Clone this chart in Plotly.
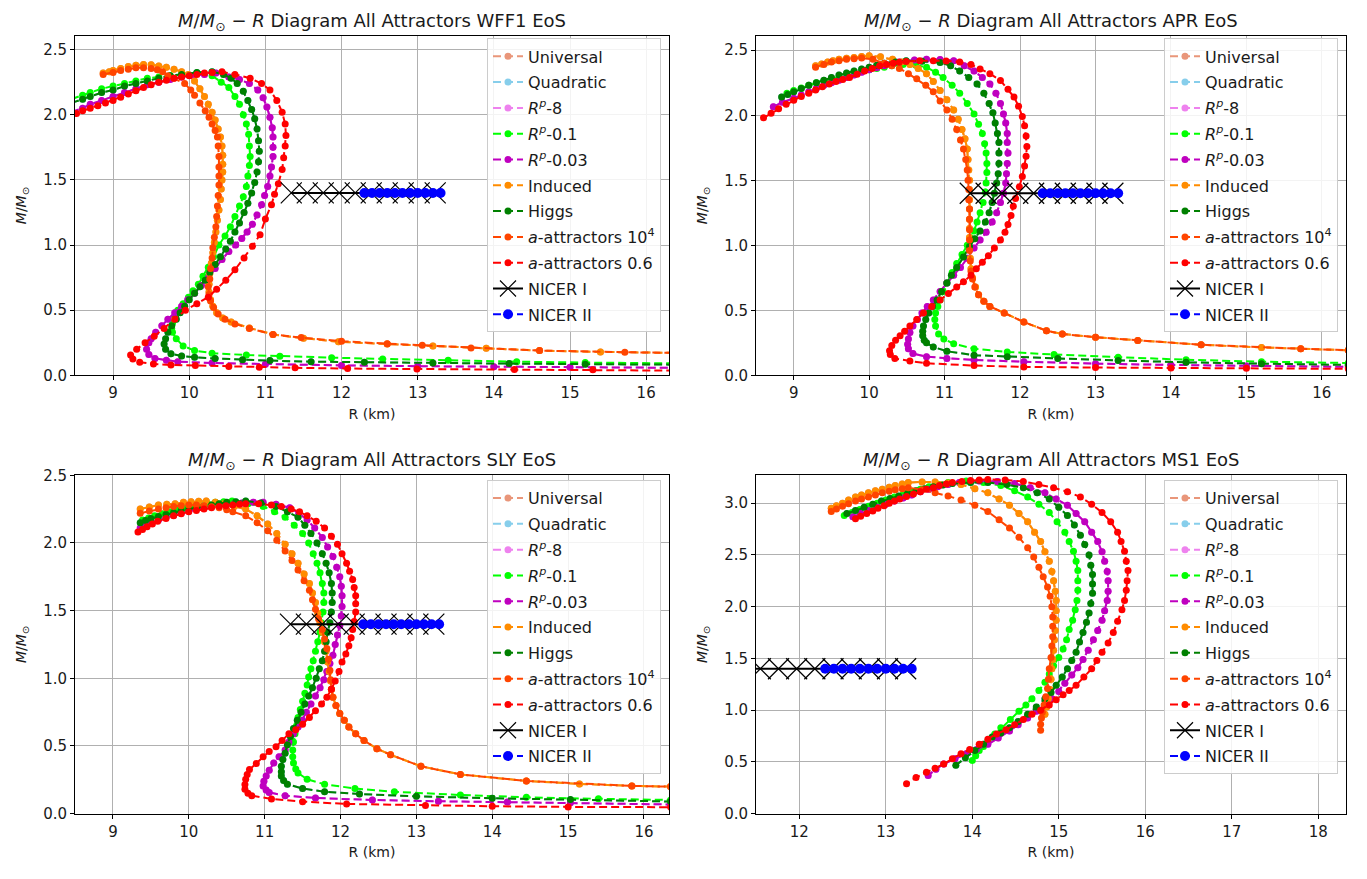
import plotly.graph_objects as go

# ---------------- series meta ----------------
NAMES = ["Universal", "Quadratic", "<i>R</i><sup><i>p</i></sup>-8", "<i>R</i><sup><i>p</i></sup>-0.1",
         "<i>R</i><sup><i>p</i></sup>-0.03", "Induced", "Higgs", "<i>a</i>-attractors 10<sup>4</sup>",
         "<i>a</i>-attractors 0.6"]
COLORS = ["#E9967A", "#87CEEB", "#EE82EE", "#00FF00", "#BF00BF", "#FF8C00", "#008000", "#FF4500", "#FF0000"]

NICER1_R = [11.34, 11.55, 11.76, 11.97, 12.18, 12.39, 12.6, 12.81, 13.02, 13.23]
NICER1_M = [1.4] * 10
NICER2_R = [12.3, 12.4, 12.5, 12.6, 12.7, 12.8, 12.9, 13.0, 13.1, 13.2, 13.3]
NICER2_M = [1.4] * 11

# ---------------- WFF1 ----------------
WFF1_RP01 = [(8.45,2.12),(8.6,2.15),(8.7,2.17),(8.85,2.2),(9.0,2.22),(9.15,2.24),(9.3,2.26),(9.45,2.28),(9.6,2.29),
             (9.75,2.3),(9.9,2.31),(10.1,2.32),(10.3,2.3),(10.42,2.25),
             (10.52,2.21),(10.6,2.14),(10.66,2.08),(10.71,2.0),(10.75,1.93),(10.78,1.85),(10.79,1.76),(10.8,1.68),
             (10.79,1.61),(10.77,1.53),(10.75,1.45),(10.71,1.37),(10.66,1.3),(10.6,1.22),(10.54,1.14),(10.47,1.07),
             (10.39,1.0),(10.32,0.91),(10.25,0.83),(10.18,0.76),(10.12,0.7),(10.05,0.65),(9.99,0.6),(9.92,0.55),
             (9.85,0.5),(9.81,0.45),(9.78,0.4),(9.77,0.36),(9.78,0.33),(9.83,0.28),(9.92,0.226),(10.07,0.19),
             (10.3,0.17),(10.75,0.156),(11.19,0.146),(11.87,0.136),(12.54,0.126),(13.4,0.115),(14.3,0.105),
             (15.2,0.098),(16.35,0.092)]
WFF1_RP003 = [(8.45,2.02),(8.6,2.05),(8.7,2.08),(8.85,2.11),(9.0,2.14),(9.15,2.17),(9.3,2.2),(9.45,2.23),(9.6,2.25),
              (9.75,2.27),(9.9,2.29),(10.05,2.3),(10.2,2.31),(10.35,2.32),(10.52,2.29),
              (10.66,2.27),(10.79,2.24),(10.9,2.19),(10.97,2.13),(11.02,2.06),(11.06,1.98),(11.09,1.9),(11.1,1.83),
              (11.1,1.75),(11.1,1.68),(11.08,1.6),(11.06,1.53),(11.03,1.45),(10.99,1.38),(10.95,1.31),(10.89,1.23),
              (10.83,1.16),(10.76,1.1),(10.69,1.05),(10.61,1.0),(10.52,0.95),(10.43,0.89),(10.34,0.82),(10.25,0.75),
              (10.16,0.69),(10.07,0.63),(9.98,0.58),(9.9,0.53),(9.81,0.48),(9.72,0.43),(9.64,0.38),(9.56,0.33),
              (9.5,0.28),(9.47,0.25),(9.44,0.2),(9.47,0.16),(9.55,0.13),(9.7,0.115),(9.85,0.105),(10.3,0.095),
              (11.0,0.085),(12.0,0.076),(13.0,0.07),(14.0,0.066),(15.0,0.062),(16.35,0.058)]
WFF1_IND = [(8.87,2.32),(8.95,2.33),(9.0,2.34),(9.1,2.355),(9.2,2.37),(9.3,2.38),(9.4,2.385),(9.5,2.383),(9.6,2.375),
            (9.7,2.365),(9.8,2.35),(9.9,2.33),(9.99,2.31),(10.07,2.26),(10.14,2.2),
            (10.2,2.14),(10.25,2.08),(10.3,2.02),(10.34,1.96),(10.38,1.89),(10.41,1.83),(10.43,1.76),(10.44,1.69),
            (10.44,1.62),(10.44,1.56),(10.43,1.5),(10.42,1.43),(10.41,1.35),(10.39,1.27),(10.37,1.19),(10.35,1.1),
            (10.33,1.02),(10.31,0.94),(10.29,0.86),(10.27,0.78),(10.26,0.7),(10.26,0.64),(10.28,0.58),(10.31,0.53),
            (10.36,0.48),(10.44,0.44),(10.55,0.41),(10.79,0.364),(11.1,0.314),(11.5,0.285),(11.96,0.258),
            (12.6,0.24),(13.2,0.225),(13.9,0.207),(14.6,0.19),(15.4,0.18),(16.35,0.172)]
WFF1_HIG = [(8.45,2.09),(8.6,2.12),(8.7,2.14),(8.85,2.17),(9.0,2.19),(9.15,2.22),(9.3,2.24),(9.45,2.26),(9.6,2.28),
            (9.75,2.3),(9.9,2.31),(10.1,2.325),(10.3,2.33),(10.45,2.31),
            (10.55,2.28),(10.63,2.24),(10.71,2.18),(10.77,2.11),(10.82,2.04),(10.86,1.97),(10.89,1.89),(10.91,1.8),
            (10.92,1.72),(10.91,1.64),(10.89,1.56),(10.86,1.48),(10.82,1.4),(10.77,1.32),(10.72,1.25),(10.66,1.17),
            (10.6,1.1),(10.54,1.03),(10.48,0.97),(10.41,0.91),(10.34,0.85),(10.27,0.79),(10.21,0.73),(10.14,0.68),
            (10.07,0.63),(10.0,0.58),(9.94,0.53),(9.88,0.48),(9.83,0.43),(9.77,0.38),(9.72,0.33),(9.69,0.28),
            (9.67,0.24),(9.69,0.2),(9.76,0.165),(9.9,0.148),(10.07,0.138),(10.34,0.13),(10.7,0.12),(11.06,0.113),
            (11.6,0.105),(12.3,0.1),(13.2,0.095),(14.2,0.09),(15.2,0.086),(16.35,0.082)]
WFF1_A1E4 = [(8.87,2.31),(9.0,2.325),(9.1,2.34),(9.2,2.35),(9.3,2.36),(9.4,2.36),(9.5,2.355),(9.58,2.345),(9.65,2.33),
             (9.72,2.3),(9.8,2.28),(9.94,2.24),(10.02,2.19),
             (10.07,2.15),(10.14,2.09),(10.21,2.03),(10.26,1.98),(10.3,1.93),(10.34,1.88),(10.37,1.83),(10.38,1.76),
             (10.39,1.68),(10.39,1.6),(10.39,1.53),(10.39,1.46),(10.38,1.38),(10.37,1.3),(10.36,1.22),(10.35,1.14),
             (10.33,1.06),(10.31,0.98),(10.3,0.9),(10.28,0.82),(10.27,0.74),(10.25,0.68),(10.26,0.62),(10.28,0.57),
             (10.32,0.52),(10.38,0.47),(10.47,0.43),(10.6,0.395),(10.79,0.36),(11.1,0.314),(11.47,0.29),
             (12.0,0.262),(12.6,0.243),(13.06,0.231),(13.7,0.21),(14.6,0.19),(15.72,0.178),(16.35,0.172)]
WFF1_A06 = [(8.45,1.99),(8.52,2.01),(8.6,2.03),(8.7,2.05),(8.8,2.07),(8.9,2.09),(9.0,2.11),(9.1,2.135),(9.2,2.16),
            (9.3,2.185),(9.4,2.21),(9.5,2.23),(9.6,2.25),(9.7,2.265),(9.8,2.28),(9.9,2.29),(10.0,2.3),(10.1,2.31),
            (10.2,2.32),(10.3,2.325),(10.43,2.33),(10.6,2.31),(10.8,2.28),(10.95,2.24),(11.06,2.19),(11.15,2.11),(11.22,2.02),
            (11.26,1.93),(11.27,1.84),(11.26,1.76),(11.24,1.67),(11.22,1.58),(11.17,1.47),(11.12,1.39),(11.08,1.31),
            (11.0,1.2),(10.93,1.08),(10.83,0.99),(10.72,0.9),(10.6,0.81),(10.48,0.73),(10.36,0.66),(10.25,0.6),
            (10.1,0.55),(9.95,0.5),(9.81,0.43),(9.67,0.36),(9.54,0.3),(9.42,0.25),(9.31,0.2),(9.23,0.156),
            (9.26,0.125),(9.35,0.1),(9.53,0.088),(9.76,0.08),(10.08,0.075),(10.52,0.068),(10.92,0.063),
            (11.39,0.058),(12.08,0.052),(12.99,0.048),(14.27,0.045),(15.3,0.042),(16.35,0.036)]

# ---------------- APR ----------------
APR_RP01 = [(8.91,2.17),(9.0,2.19),(9.1,2.21),(9.2,2.23),(9.3,2.25),(9.4,2.265),(9.5,2.28),(9.6,2.295),(9.7,2.31),
            (9.8,2.325),(9.9,2.34),(10.0,2.35),(10.1,2.36),(10.2,2.37),(10.3,2.38),(10.45,2.39),
            (10.62,2.385),(10.76,2.37),(10.88,2.33),(10.98,2.29),(11.1,2.23),(11.2,2.17),(11.3,2.09),(11.39,2.01),
            (11.45,1.93),(11.5,1.86),(11.53,1.78),(11.55,1.71),(11.56,1.63),(11.56,1.56),(11.55,1.48),(11.54,1.41),
            (11.51,1.33),(11.47,1.25),(11.43,1.18),(11.39,1.11),(11.34,1.05),(11.3,1.0),(11.23,0.93),(11.16,0.86),
            (11.1,0.79),(11.03,0.71),(10.98,0.645),(10.94,0.58),(10.91,0.53),(10.88,0.48),(10.87,0.43),(10.88,0.38),
            (10.92,0.318),(10.99,0.28),(11.12,0.243),(11.39,0.205),(11.83,0.18),(12.45,0.16),(13.3,0.14),
            (14.2,0.12),(15.2,0.105),(16.35,0.095)]
APR_RP003 = [(8.73,2.065),(8.85,2.1),(9.0,2.13),(9.1,2.155),(9.2,2.18),(9.3,2.205),(9.4,2.23),(9.5,2.25),(9.6,2.27),
             (9.7,2.29),(9.8,2.31),(9.9,2.33),(10.0,2.35),(10.1,2.365),(10.2,2.38),(10.3,2.395),
             (10.4,2.41),(10.6,2.425),(10.76,2.43),(10.94,2.428),(11.12,2.42),(11.26,2.38),(11.39,2.34),(11.5,2.29),
             (11.6,2.24),(11.68,2.17),(11.74,2.09),(11.78,2.01),(11.81,1.94),(11.83,1.86),(11.83,1.79),(11.84,1.71),
             (11.83,1.63),(11.82,1.55),(11.81,1.48),(11.78,1.4),(11.74,1.33),(11.69,1.25),(11.63,1.18),(11.55,1.1),
             (11.47,1.04),(11.39,0.98),(11.3,0.9),(11.21,0.83),(11.12,0.77),(11.03,0.71),(10.94,0.645),(10.85,0.58),
             (10.77,0.53),(10.7,0.48),(10.64,0.43),(10.58,0.38),(10.54,0.33),(10.52,0.28),(10.51,0.24),(10.52,0.205),
             (10.58,0.168),(10.76,0.143),(11.03,0.13),(11.39,0.118),(12.05,0.105),(13.0,0.09),(14.0,0.08),
             (15.0,0.072),(16.35,0.065)]
APR_IND = [(9.29,2.38),(9.37,2.395),(9.45,2.41),(9.52,2.42),(9.6,2.43),(9.7,2.438),(9.8,2.445),(9.9,2.452),
           (10.0,2.457),(10.15,2.45),(10.31,2.43),(10.43,2.41),
           (10.54,2.39),(10.65,2.36),(10.76,2.32),(10.85,2.26),(10.94,2.19),(11.03,2.12),(11.12,2.04),(11.18,1.97),
           (11.23,1.89),(11.27,1.82),(11.3,1.74),(11.31,1.66),(11.32,1.58),(11.33,1.5),(11.33,1.43),(11.33,1.35),
           (11.33,1.28),(11.33,1.2),(11.33,1.13),(11.33,1.06),(11.33,0.98),(11.34,0.9),(11.35,0.82),(11.37,0.75),
           (11.41,0.68),(11.45,0.62),(11.52,0.57),(11.6,0.53),(11.79,0.48),(12.05,0.41),(12.35,0.343),
           (12.56,0.318),(13.0,0.293),(13.56,0.268),(14.4,0.235),(15.2,0.215),(15.72,0.205),(16.35,0.193)]
APR_HIG = [(8.84,2.14),(8.92,2.16),(9.0,2.18),(9.1,2.205),(9.2,2.23),(9.3,2.25),(9.4,2.27),(9.5,2.29),(9.6,2.31),
           (9.7,2.325),(9.8,2.34),(9.9,2.355),(10.0,2.37),(10.1,2.385),(10.2,2.4),(10.35,2.41),(10.49,2.42),
           (10.7,2.415),(10.94,2.406),(11.08,2.38),(11.2,2.34),(11.32,2.29),(11.43,2.24),(11.52,2.17),(11.59,2.09),
           (11.64,2.02),(11.67,1.94),(11.7,1.86),(11.72,1.79),(11.72,1.71),(11.72,1.63),(11.71,1.55),(11.69,1.48),
           (11.66,1.4),(11.63,1.33),(11.59,1.25),(11.54,1.18),(11.47,1.11),(11.4,1.05),(11.33,0.99),(11.25,0.91),
           (11.16,0.83),(11.09,0.77),(11.03,0.71),(10.96,0.645),(10.9,0.58),(10.84,0.53),(10.79,0.48),(10.75,0.43),
           (10.72,0.38),(10.71,0.34),(10.71,0.305),(10.73,0.27),(10.76,0.25),(10.85,0.218),(11.03,0.185),
           (11.39,0.155),(11.83,0.143),(12.5,0.13),(13.3,0.115),(14.2,0.1),(15.2,0.09),(16.35,0.08)]
APR_A1E4 = [(9.29,2.37),(9.4,2.39),(9.5,2.41),(9.6,2.42),(9.7,2.43),(9.8,2.435),(9.9,2.44),(10.05,2.43),(10.2,2.4),
            (10.3,2.38),(10.4,2.36),(10.52,2.32),(10.63,2.28),
            (10.75,2.23),(10.85,2.18),(10.94,2.11),(11.03,2.04),(11.1,1.97),(11.16,1.89),(11.21,1.81),(11.25,1.74),
            (11.28,1.66),(11.3,1.58),(11.31,1.5),(11.32,1.43),(11.32,1.35),(11.33,1.28),(11.33,1.2),(11.33,1.12),
            (11.33,1.04),(11.33,0.96),(11.34,0.88),(11.35,0.8),(11.37,0.74),(11.4,0.68),(11.45,0.62),(11.52,0.57),
            (11.6,0.53),(11.79,0.48),(12.05,0.41),(12.35,0.343),(12.56,0.318),(13.0,0.293),(13.56,0.268),
            (14.4,0.235),(15.72,0.205),(16.35,0.193)]
APR_A06 = [(8.6,1.98),(8.7,2.015),(8.8,2.05),(8.9,2.085),(9.0,2.115),(9.1,2.145),(9.2,2.17),(9.29,2.195),(9.38,2.22),
           (9.47,2.24),(9.56,2.26),(9.65,2.275),(9.74,2.29),(9.84,2.315),(9.94,2.34),(10.04,2.36),(10.14,2.38),
           (10.23,2.39),(10.32,2.4),(10.4,2.407),
           (10.49,2.414),(10.67,2.42),(10.85,2.42),(11.02,2.418),(11.2,2.41),(11.35,2.39),(11.47,2.356),
           (11.6,2.32),(11.74,2.267),(11.84,2.2),(11.92,2.14),(11.98,2.07),(12.03,1.99),(12.06,1.92),(12.08,1.84),
           (12.09,1.76),(12.08,1.685),(12.06,1.61),(12.03,1.53),(11.99,1.45),(11.94,1.36),(11.91,1.3),(11.88,1.23),
           (11.84,1.16),(11.8,1.1),(11.74,1.04),(11.66,0.98),(11.58,0.92),(11.5,0.87),(11.42,0.82),(11.35,0.77),
           (11.25,0.72),(11.16,0.68),(11.05,0.63),(10.94,0.58),(10.83,0.53),(10.72,0.48),(10.63,0.43),(10.54,0.38),
           (10.47,0.34),(10.41,0.305),(10.35,0.27),(10.3,0.23),(10.27,0.19),(10.28,0.16),(10.34,0.13),(10.54,0.11),
           (10.76,0.093),(11.39,0.075),(12.05,0.065),(13.0,0.06),(14.0,0.057),(15.0,0.054),(16.35,0.05)]

# ---------------- SLY ----------------
SLY_RP01 = [(9.39,2.17),(9.47,2.185),(9.55,2.2),(9.65,2.215),(9.75,2.23),(9.85,2.245),(9.95,2.26),(10.05,2.27),
            (10.15,2.28),(10.25,2.29),(10.35,2.3),(10.46,2.305),(10.57,2.31),(10.78,2.29),
            (10.98,2.27),(11.13,2.23),(11.27,2.19),(11.39,2.13),(11.5,2.07),(11.58,2.0),(11.64,1.92),(11.69,1.85),
            (11.73,1.78),(11.76,1.7),(11.78,1.63),(11.78,1.56),(11.77,1.49),(11.75,1.41),(11.73,1.34),(11.7,1.27),
            (11.67,1.2),(11.64,1.13),(11.61,1.07),(11.58,1.01),(11.56,0.95),(11.53,0.89),(11.5,0.83),(11.47,0.77),
            (11.44,0.71),(11.42,0.65),(11.4,0.59),(11.38,0.53),(11.37,0.47),(11.37,0.42),(11.38,0.374),(11.41,0.33),
            (11.44,0.3),(11.56,0.254),(11.79,0.217),(12.19,0.186),(12.71,0.162),(13.58,0.138),(14.45,0.121),
            (15.4,0.11),(16.35,0.101)]
SLY_RP003 = [(9.36,2.11),(9.43,2.13),(9.5,2.15),(9.6,2.17),(9.7,2.19),(9.8,2.205),(9.9,2.22),(10.0,2.235),(10.1,2.25),
             (10.2,2.26),(10.3,2.27),(10.4,2.278),(10.5,2.285),(10.6,2.29),(10.7,2.295),
             (10.85,2.3),(10.98,2.3),(11.15,2.285),(11.33,2.26),(11.45,2.22),(11.56,2.17),(11.66,2.11),(11.76,2.04),
             (11.83,1.97),(11.9,1.9),(11.95,1.82),(11.99,1.75),(12.01,1.68),(12.02,1.61),(12.02,1.53),(12.01,1.46),
             (11.99,1.39),(11.96,1.32),(11.93,1.25),(11.9,1.17),(11.86,1.11),(11.82,1.05),(11.78,0.99),(11.73,0.93),
             (11.67,0.87),(11.61,0.81),(11.55,0.75),(11.5,0.69),(11.44,0.64),(11.38,0.59),(11.32,0.53),(11.27,0.47),
             (11.19,0.42),(11.12,0.374),(11.06,0.32),(11.02,0.278),(10.99,0.24),(10.98,0.205),(11.02,0.175),
             (11.06,0.157),(11.27,0.133),(11.67,0.116),(12.42,0.101),(13.29,0.092),(14.2,0.086),(15.03,0.08),
             (16.35,0.068)]
SLY_IND = [(9.36,2.25),(9.48,2.265),(9.6,2.28),(9.71,2.285),(9.82,2.29),(9.93,2.3),(10.03,2.305),(10.13,2.308),
           (10.23,2.31),(10.35,2.3),(10.46,2.29),(10.6,2.27),(10.75,2.25),
           (10.9,2.2),(11.04,2.14),(11.16,2.07),(11.27,1.99),(11.36,1.92),(11.44,1.85),(11.52,1.77),(11.59,1.7),
           (11.63,1.63),(11.67,1.56),(11.7,1.48),(11.73,1.41),(11.76,1.34),(11.79,1.27),(11.81,1.2),(11.83,1.12),
           (11.85,1.05),(11.87,0.98),(11.88,0.92),(11.9,0.86),(11.94,0.8),(11.99,0.74),(12.05,0.69),(12.11,0.64),
           (12.2,0.59),(12.31,0.54),(12.48,0.48),(12.66,0.435),(13.06,0.35),(13.58,0.29),(14.45,0.242),
           (15.15,0.22),(15.84,0.205),(16.35,0.2)]
SLY_HIG = [(9.36,2.15),(9.43,2.165),(9.5,2.18),(9.6,2.195),(9.7,2.21),(9.8,2.225),(9.9,2.24),(10.0,2.25),(10.1,2.26),
           (10.2,2.27),(10.3,2.28),(10.4,2.29),(10.5,2.3),(10.62,2.305),(10.75,2.31),(10.95,2.295),
           (11.15,2.27),(11.3,2.23),(11.44,2.19),(11.53,2.13),(11.61,2.07),(11.69,2.0),(11.76,1.92),(11.81,1.85),
           (11.85,1.78),(11.88,1.7),(11.89,1.63),(11.89,1.56),(11.88,1.49),(11.86,1.41),(11.83,1.34),(11.81,1.27),
           (11.79,1.2),(11.76,1.13),(11.72,1.07),(11.68,1.0),(11.63,0.93),(11.58,0.87),(11.53,0.81),(11.48,0.75),
           (11.43,0.69),(11.38,0.63),(11.34,0.57),(11.3,0.51),(11.27,0.447),(11.24,0.4),(11.22,0.35),(11.22,0.31),
           (11.22,0.278),(11.25,0.245),(11.3,0.217),(11.5,0.186),(11.79,0.162),(12.25,0.145),(13.0,0.128),
           (14.0,0.114),(15.03,0.104),(16.35,0.09)]
SLY_A1E4 = [(9.36,2.22),(9.48,2.235),(9.6,2.25),(9.7,2.26),(9.8,2.27),(9.9,2.275),(10.0,2.28),(10.1,2.28),
            (10.2,2.275),(10.3,2.268),(10.4,2.26),(10.5,2.245),(10.58,2.23),(10.75,2.2),
            (10.9,2.15),(11.04,2.09),(11.16,2.02),(11.27,1.94),(11.36,1.87),(11.44,1.8),(11.52,1.72),(11.59,1.65),
            (11.63,1.58),(11.67,1.51),(11.71,1.44),(11.76,1.36),(11.79,1.29),(11.82,1.22),(11.84,1.14),(11.86,1.06),
            (11.87,0.99),(11.88,0.92),(11.9,0.86),(11.94,0.8),(11.99,0.74),(12.05,0.69),(12.11,0.64),(12.2,0.59),
            (12.31,0.54),(12.48,0.48),(12.66,0.435),(13.06,0.35),(13.58,0.29),(14.45,0.242),(15.84,0.205),
            (16.35,0.2)]
SLY_A06 = [(9.33,2.08),(9.39,2.1),(9.45,2.12),(9.52,2.14),(9.59,2.16),(9.7,2.18),(9.8,2.2),(9.9,2.215),(10.0,2.23),
           (10.1,2.24),(10.2,2.25),(10.3,2.26),(10.4,2.27),(10.49,2.275),(10.58,2.28),(10.67,2.285),
           (10.75,2.29),(10.92,2.29),(11.09,2.28),(11.22,2.27),(11.35,2.25),(11.46,2.23),(11.56,2.2),(11.68,2.16),
           (11.79,2.11),(11.88,2.05),(11.96,1.99),(12.02,1.92),(12.08,1.85),(12.12,1.79),(12.16,1.73),(12.18,1.67),
           (12.2,1.61),(12.2,1.55),(12.2,1.49),(12.18,1.42),(12.16,1.36),(12.14,1.3),(12.11,1.24),(12.07,1.18),
           (12.02,1.12),(11.98,1.05),(11.93,0.98),(11.88,0.92),(11.82,0.86),(11.75,0.81),(11.67,0.76),(11.59,0.71),
           (11.5,0.66),(11.41,0.62),(11.32,0.59),(11.23,0.54),(11.15,0.495),(11.06,0.46),(10.98,0.42),(10.89,0.37),
           (10.8,0.326),(10.77,0.29),(10.75,0.254),(10.74,0.215),(10.74,0.18),(10.78,0.15),(10.83,0.133),
           (11.09,0.109),(11.5,0.089),(12.08,0.072),(13.12,0.06),(14.0,0.055),(15.0,0.05),(16.35,0.048)]

# ---------------- MS1 ----------------
MS1_RP01 = [(12.52,2.88),(12.61,2.91),(12.7,2.94),(12.8,2.97),(12.9,3.0),(13.0,3.03),(13.1,3.06),(13.2,3.085),
            (13.3,3.11),(13.4,3.135),(13.5,3.16),(13.61,3.18),(13.72,3.2),(13.93,3.215),
            (14.13,3.2),(14.33,3.17),(14.49,3.12),(14.64,3.06),(14.77,2.99),(14.89,2.91),(14.98,2.82),(15.07,2.72),
            (15.12,2.63),(15.17,2.535),(15.2,2.44),(15.22,2.35),(15.22,2.25),(15.22,2.16),(15.21,2.06),(15.19,1.97),
            (15.16,1.87),(15.12,1.78),(15.09,1.68),(15.05,1.59),(15.0,1.51),(14.94,1.43),(14.89,1.35),(14.84,1.27),
            (14.77,1.19),(14.69,1.11),(14.62,1.05),(14.54,0.99),(14.44,0.91),(14.33,0.83),(14.26,0.77),(14.18,0.7),
            (14.13,0.65),(14.08,0.61),(14.04,0.56),(14.0,0.515)]
MS1_RP003 = [(12.62,2.87),(12.71,2.9),(12.8,2.93),(12.9,2.96),(13.0,2.99),(13.1,3.02),(13.2,3.05),(13.3,3.08),
             (13.4,3.11),(13.5,3.135),(13.6,3.16),(13.72,3.18),(13.85,3.2),(14.08,3.215),
             (14.29,3.21),(14.49,3.19),(14.67,3.15),(14.84,3.1),(14.97,3.04),(15.1,2.98),(15.2,2.9),(15.3,2.82),
             (15.38,2.72),(15.45,2.63),(15.5,2.53),(15.53,2.44),(15.56,2.34),(15.57,2.25),(15.57,2.15),(15.56,2.06),
             (15.53,1.96),(15.5,1.87),(15.45,1.77),(15.4,1.68),(15.34,1.58),(15.28,1.49),(15.22,1.41),(15.15,1.34),
             (15.07,1.26),(15.0,1.18),(14.92,1.11),(14.84,1.05),(14.74,0.99),(14.64,0.925),(14.53,0.86),(14.43,0.8),
             (14.3,0.73),(14.18,0.67),(14.05,0.62),(13.93,0.58),(13.8,0.53),(13.67,0.48),(13.58,0.43),(13.49,0.37)]
MS1_IND = [(12.37,2.95),(12.43,2.975),(12.5,3.0),(12.57,3.03),(12.65,3.06),(12.72,3.08),(12.8,3.1),(12.88,3.12),
           (12.96,3.135),(13.04,3.155),(13.11,3.17),(13.19,3.185),(13.26,3.2),(13.42,3.205),
           (13.57,3.205),(13.72,3.195),(13.87,3.18),(14.03,3.14),(14.18,3.1),(14.31,3.04),(14.43,2.98),(14.54,2.9),
           (14.64,2.82),(14.72,2.72),(14.79,2.63),(14.84,2.53),(14.89,2.44),(14.92,2.34),(14.94,2.25),(14.96,2.15),
           (14.97,2.06),(14.97,1.96),(14.97,1.87),(14.96,1.77),(14.95,1.68),(14.94,1.58),(14.93,1.49),(14.92,1.4),
           (14.91,1.3),(14.9,1.2),(14.88,1.11),(14.86,1.03),(14.84,0.96)]
MS1_HIG = [(12.55,2.9),(12.65,2.93),(12.75,2.96),(12.85,2.99),(12.95,3.02),(13.05,3.045),(13.15,3.07),(13.25,3.095),
           (13.35,3.12),(13.45,3.14),(13.55,3.16),(13.66,3.175),(13.77,3.19),(13.98,3.2),
           (14.18,3.2),(14.4,3.18),(14.59,3.15),(14.75,3.1),(14.89,3.04),(15.0,2.96),(15.1,2.88),(15.18,2.79),
           (15.25,2.69),(15.3,2.6),(15.35,2.5),(15.37,2.4),(15.39,2.31),(15.39,2.22),(15.39,2.13),(15.37,2.03),
           (15.35,1.94),(15.32,1.85),(15.28,1.75),(15.24,1.66),(15.2,1.56),(15.15,1.48),(15.1,1.4),(15.04,1.32),
           (14.97,1.24),(14.91,1.17),(14.84,1.11),(14.74,1.03),(14.64,0.96),(14.53,0.89),(14.43,0.83),(14.33,0.78),
           (14.23,0.74),(14.13,0.67),(14.03,0.61),(13.92,0.54),(13.81,0.467)]
MS1_A1E4 = [(12.37,2.92),(12.43,2.945),(12.5,2.97),(12.57,2.995),(12.65,3.02),(12.72,3.04),(12.8,3.06),(12.88,3.08),
            (12.96,3.1),(13.04,3.115),(13.11,3.13),(13.19,3.14),(13.26,3.15),(13.42,3.13),
            (13.57,3.1),(13.72,3.07),(13.87,3.03),(14.03,2.98),(14.18,2.92),(14.31,2.84),(14.43,2.76),(14.54,2.67),
            (14.64,2.57),(14.71,2.48),(14.77,2.38),(14.82,2.29),(14.87,2.19),(14.9,2.1),(14.92,2.0),(14.93,1.9),
            (14.93,1.81),(14.93,1.71),(14.92,1.62),(14.91,1.51),(14.89,1.4),(14.88,1.3),(14.87,1.21),(14.85,1.13),
            (14.83,1.05),(14.81,0.98),(14.8,0.925),(14.79,0.865),(14.79,0.805)]
MS1_A06 = [(12.65,2.85),(12.71,2.875),(12.78,2.9),(12.85,2.925),(12.91,2.95),(12.98,2.975),(13.04,3.0),(13.1,3.02),
           (13.16,3.04),(13.24,3.065),(13.32,3.09),(13.4,3.11),(13.47,3.135),(13.55,3.15),(13.62,3.17),(13.7,3.185),
           (13.77,3.2),(13.88,3.21),(13.98,3.22),(14.08,3.225),(14.18,3.23),(14.38,3.225),(14.59,3.21),(14.77,3.18),
           (14.94,3.15),(15.1,3.11),
           (15.25,3.06),(15.38,2.99),(15.5,2.91),(15.6,2.82),(15.68,2.72),(15.72,2.63),(15.76,2.535),(15.78,2.44),
           (15.8,2.35),(15.79,2.25),(15.78,2.16),(15.76,2.06),(15.73,1.97),(15.68,1.86),(15.63,1.75),(15.57,1.65),
           (15.5,1.56),(15.44,1.48),(15.38,1.4),(15.29,1.32),(15.2,1.24),(15.12,1.19),(15.05,1.15),(14.97,1.1),
           (14.89,1.05),(14.79,1.0),(14.69,0.96),(14.59,0.91),(14.49,0.86),(14.39,0.81),(14.28,0.77),(14.18,0.72),
           (14.08,0.67),(13.97,0.62),(13.87,0.58),(13.77,0.53),(13.67,0.48),(13.57,0.44),(13.47,0.4),(13.35,0.35),
           (13.24,0.29)]

# series order: Universal, Quadratic, Rp-8, Rp-0.1, Rp-0.03, Induced, Higgs, a-attr 1e4, a-attr 0.6
PANELS = [
    dict(eos="WFF1", xr=[8.5, 16.3], yr=[0, 2.605], dx=1,
         data=[WFF1_IND, WFF1_HIG, WFF1_RP003, WFF1_RP01, WFF1_RP003, WFF1_IND, WFF1_HIG, WFF1_A1E4, WFF1_A06]),
    dict(eos="APR", xr=[8.5, 16.32], yr=[0, 2.61], dx=1,
         data=[APR_IND, APR_HIG, APR_RP003, APR_RP01, APR_RP003, APR_IND, APR_HIG, APR_A1E4, APR_A06]),
    dict(eos="SLY", xr=[8.5, 16.33], yr=[0, 2.5], dx=1,
         data=[SLY_IND, SLY_HIG, SLY_RP003, SLY_RP01, SLY_RP003, SLY_IND, SLY_HIG, SLY_A1E4, SLY_A06]),
    dict(eos="MS1", xr=[11.5, 18.32], yr=[0, 3.27], dx=1,
         data=[MS1_IND, MS1_HIG, MS1_RP003, MS1_RP01, MS1_RP003, MS1_IND, MS1_HIG, MS1_A1E4, MS1_A06]),
]

W, H = 1367, 879
XDOM = [[75 / W, 669 / W], [756 / W, 1346 / W]]
YDOM = [[1 - 374 / H, 1 - 27.5 / H], [1 - 821.5 / H, 1 - 476 / H]]
FONT = "DejaVu Sans"

fig = go.Figure()
layout = dict(width=W, height=H, margin=dict(l=0, r=0, t=0, b=0), paper_bgcolor="white",
              plot_bgcolor="white", font=dict(family=FONT, size=15, color="#1a1a1a"), showlegend=True)
annotations = []

for k, p in enumerate(PANELS):
    row, col = k // 2, k % 2
    ax = "" if k == 0 else str(k + 1)
    xa, ya = "x" + ax, "y" + ax
    leg = "legend" if k == 0 else "legend" + str(k + 1)
    for i, (name, color, pts) in enumerate(zip(NAMES, COLORS, p["data"])):
        fig.add_trace(go.Scatter(
            x=[q[0] for q in pts], y=[q[1] for q in pts], mode="lines+markers", name=name,
            line=dict(color=color, width=2, dash="8px,4px"), marker=dict(color=color, size=7),
            xaxis=xa, yaxis=ya, legend=leg, legendgroup=f"{k}-{i}", cliponaxis=True))
    fig.add_trace(go.Scatter(
        x=NICER1_R, y=NICER1_M, mode="lines+markers", name="NICER I",
        line=dict(color="black", width=2),
        marker=dict(symbol="x-thin", size=21, line=dict(color="black", width=1.2)),
        xaxis=xa, yaxis=ya, legend=leg, legendgroup=f"{k}-n1"))
    fig.add_trace(go.Scatter(
        x=NICER2_R, y=NICER2_M, mode="lines+markers", name="NICER II",
        line=dict(color="#0000FF", width=2, dash="8px,4px"), marker=dict(color="#0000FF", size=10),
        xaxis=xa, yaxis=ya, legend=leg, legendgroup=f"{k}-n2"))

    axis_common = dict(showline=True, linecolor="black", linewidth=1, mirror=True, ticks="outside",
                       ticklen=4, tickcolor="black", showgrid=True, gridcolor="#b0b0b0", gridwidth=0.8,
                       zeroline=False, tickfont=dict(size=15, family=FONT))
    layout["xaxis" + ax] = dict(domain=XDOM[col], range=p["xr"], dtick=p["dx"], anchor=ya,
                                title=dict(text="R (km)", font=dict(size=14), standoff=7), **axis_common)
    layout["yaxis" + ax] = dict(domain=YDOM[row], range=p["yr"], dtick=0.5, tickformat=".1f", anchor=xa,
                                title=dict(text="<i>M</i>/<i>M</i><sub>⊙</sub>", font=dict(size=14), standoff=13),
                                **axis_common)
    legend_y = 1 - (30 if row == 0 else 481) / H
    layout[leg] = dict(x=XDOM[col][1] - 8 / W, y=legend_y, xanchor="right", yanchor="top",
                       xref="paper", yref="paper", bgcolor="rgba(255,255,255,0.85)", bordercolor="#cccccc",
                       borderwidth=1, font=dict(size=16, family=FONT), tracegroupgap=2, itemwidth=30)
    title_y = 1 - (13 if row == 0 else 461) / H
    annotations.append(dict(
        text=f"<i>M</i>/<i>M</i><sub>⊙</sub> − <i>R</i> Diagram All Attractors {p['eos']} EoS",
        x=(XDOM[col][0] + XDOM[col][1]) / 2, y=title_y, xref="paper", yref="paper",
        xanchor="center", yanchor="middle", showarrow=False, font=dict(size=18, family=FONT)))

layout["annotations"] = annotations
fig.update_layout(**layout)
fig.write_html("out.html")
